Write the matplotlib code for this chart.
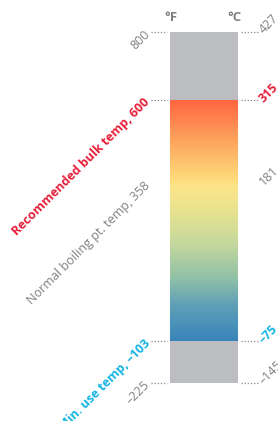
#!/usr/bin/env python3
"""Thermometer-style operating range chart (°F / °C)."""

import matplotlib as mpl

mpl.use("Agg")

import matplotlib.pyplot as plt
import numpy as np
from matplotlib.colors import LinearSegmentedColormap

# marks on the scale, in °F, with the matching °C values
temp_f = [800, 600, 358, -103, -225]
temp_c = [427, 315, 181, -75, -145]
left_labels = [
    "800",
    "Recommended bulk temp, 600",
    "Normal boiling pt. temp, 358",
    "Min. use temp, \u2013103",
    "\u2013225",
]
right_labels = ["427", "315", "181", "\u201375", "\u2013145"]
label_kinds = ["plain", "hot", "plain", "cold", "plain"]
has_leader = [True, True, False, True, True]

# colour ramp inside the usable range (°F -> colour)
ramp_f = [600, 490, 375, 345, 270, 180, 80, 0, -103]
ramp_colors = ["#ff6640", "#fda05c", "#ffd878", "#fde58a", "#e6e290",
               "#c5d89e", "#90c0a6", "#5fa0b8", "#3885bb"]

GRAY_BAR = "#bcbdc0"
TEXT_COLORS = {"plain": "#808080", "hot": "#e8203a", "cold": "#14b4e4"}

plt.rcParams["font.family"] = ["Open Sans", "DejaVu Sans"]

fig = plt.figure(figsize=(2.78, 4.21), dpi=100)
ax = fig.add_axes([0, 0, 1, 1])
ax.set_axis_off()

# map axes so that x is in pixels and y in °F
px_per_f = 351 / 1025
ylim = (-225 - (421 - 383) / px_per_f, 800 + 32 / px_per_f)

x0, x1 = 170, 238
top, hi, lo, bottom = temp_f[0], temp_f[1], temp_f[3], temp_f[4]

# gray outside the usable range
ax.fill_between([x0, x1], hi, top, color=GRAY_BAR, lw=0)
ax.fill_between([x0, x1], bottom, lo, color=GRAY_BAR, lw=0)

# gradient inside the usable range
pos = [(hi - f) / (hi - lo) for f in ramp_f]
cmap = LinearSegmentedColormap.from_list("ramp", list(zip(pos, ramp_colors)))
grad = np.linspace(0, 1, 256).reshape(-1, 1)
ax.imshow(grad, cmap=cmap, aspect="auto", extent=[x0, x1, lo, hi],
          origin="upper", interpolation="bilinear")
ax.set_xlim(0, 278)
ax.set_ylim(*ylim)

for f, c, ltxt, rtxt, kind, lead in zip(temp_f, temp_c, left_labels,
                                         right_labels, label_kinds, has_leader):
    color = TEXT_COLORS[kind]
    weight = "bold" if kind != "plain" else "normal"
    if lead:
        ax.plot([151, 167], [f, f], ls=(0, (1, 1.5)), color="#888888", lw=0.9)
        ax.plot([241, 258], [f, f], ls=(0, (1, 1.5)), color="#888888", lw=0.9)
    ax.text(148, f, ltxt, rotation=45, rotation_mode="anchor", ha="right",
            va="center", color=color, fontsize=9, fontweight=weight)
    ax.text(261, f, rtxt, rotation=45, rotation_mode="anchor", ha="left",
            va="center", color=color, fontsize=9, fontweight=weight)

ax.text(171, 800 + 14 / px_per_f, "\u00b0F", ha="center", va="center",
        color="#808080", fontsize=9.5, fontweight="bold")
ax.text(234, 800 + 14 / px_per_f, "\u00b0C", ha="center", va="center",
        color="#808080", fontsize=9.5, fontweight="bold")

fig.savefig("out.png", dpi=100)
